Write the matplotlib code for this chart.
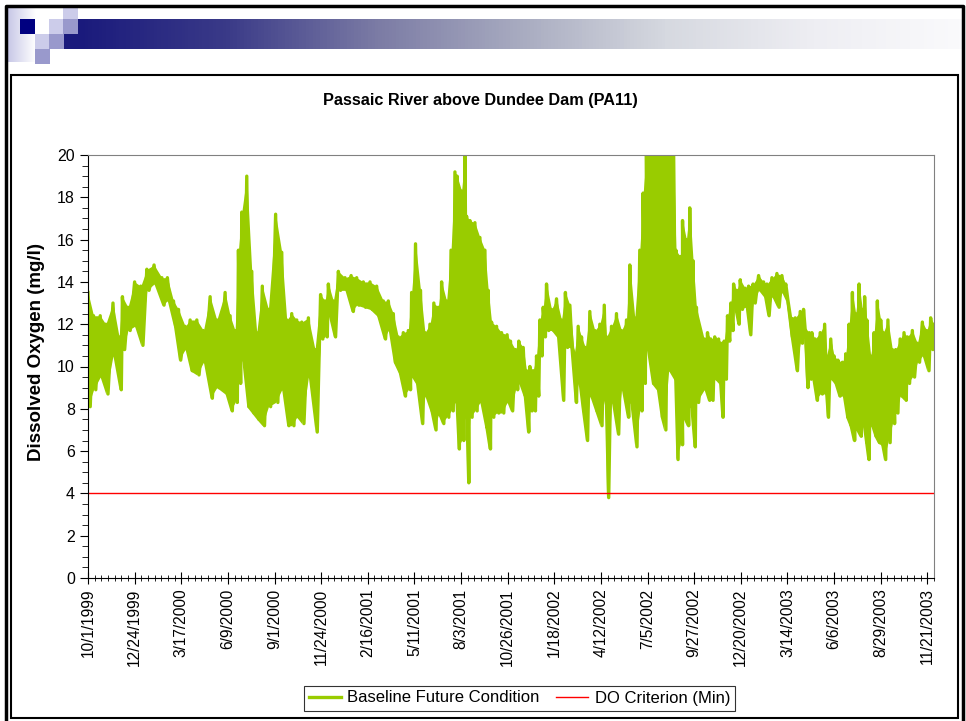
import numpy as np
import pandas as pd
import matplotlib
matplotlib.use("Agg")
import matplotlib.pyplot as plt
from matplotlib.colors import LinearSegmentedColormap
from matplotlib.patches import Rectangle

plt.rcParams['font.family'] = ['Liberation Sans', 'DejaVu Sans']

# days after 10/1/1999 where the upper / lower edge of the trace was read
days = [0, 10, 22, 32, 45, 56, 62, 72, 84, 95, 106, 119, 133, 143, 154, 163, 175, 184, 196, 208, 220, 232,
        247, 256, 265, 271, 277, 286, 295, 304, 314, 325, 338, 349, 358, 367, 376, 385, 397, 409, 419, 427,
        433, 442, 451, 463, 474, 484, 496, 508,
        520, 532, 541, 550, 559, 568, 577, 583, 590, 599, 607, 616, 623, 631, 637, 646, 654, 661, 665, 673,
        679, 682, 688, 697, 706, 715, 721, 727, 736, 745, 755, 761, 770, 776,
        784, 790, 796, 802, 808, 814, 820, 826, 835, 844, 853, 860, 868, 876, 883, 889, 896, 904, 913, 922,
        930, 934, 943, 952, 961, 970, 976, 985, 994, 1000, 1006, 1015, 1024,
        1031, 1037, 1046, 1055, 1059, 1067, 1071, 1078, 1084, 1090, 1096, 1110, 1116, 1122, 1129, 1136, 1140,
        1146, 1152, 1158, 1163, 1169, 1175, 1184, 1190, 1198, 1208, 1217, 1223, 1232, 1241, 1250, 1257, 1265,
        1274, 1283, 1289, 1293, 1299,
        1304, 1310, 1319, 1327, 1330, 1338, 1344, 1351, 1359, 1365, 1371, 1377, 1383, 1389, 1395, 1399, 1403,
        1410, 1416, 1422, 1428, 1433, 1441, 1449, 1455, 1463, 1470, 1476, 1485, 1494, 1503, 1511, 1518, 1524]

do_high = [13.5, 12.4, 12.4, 12.0, 13.0, 11.4, 13.3, 12.8, 14.0, 13.8, 14.6, 14.8, 14.2, 14.2, 13.1, 12.7, 11.9,
           12.2, 12.2, 11.7, 13.3, 12.2,
           13.5, 12.4, 11.7, 15.5, 17.3, 19.0, 14.5, 11.6, 13.8, 12.7, 17.2, 15.4, 12.2, 12.5, 12.2, 12.1, 12.3,
           10.8, 13.4, 13.1, 13.9, 13.1, 14.5, 14.2, 14.3, 14.2, 14.0, 14.0,
           13.8, 13.1, 13.1, 12.5, 11.4, 11.6, 11.7, 13.5, 15.8, 13.6, 11.6, 12.0, 13.0, 12.8, 14.0, 13.1, 15.5,
           19.2, 19.0, 18.3, 20.0, 17.1, 16.9, 16.8, 16.1, 15.5, 13.6, 12.1, 11.9, 11.6, 11.5, 11.2, 10.8, 11.2,
           10.9, 9.8, 10.0, 9.8, 10.5, 12.2, 12.8, 13.9, 12.7, 13.2, 12.2, 13.5, 12.9, 10.6, 11.9, 11.4, 10.9,
           12.6, 11.7, 12.0, 12.9, 11.4, 11.9, 12.5, 11.7, 12.2, 14.8, 12.3, 15.5, 18.2, 20.0, 20.0, 20.0,
           20.0, 20.0, 20.0, 20.0, 15.5, 15.2, 16.9, 16.0, 17.5, 15.0, 12.8, 11.3, 11.6, 11.3, 11.4, 11.3, 11.1,
           11.2, 12.4, 13.0, 13.9, 13.6, 14.1, 13.7, 13.8, 13.9, 14.3, 14.0, 13.9, 14.2, 14.4, 14.3, 13.9, 12.4,
           12.3, 12.6, 12.7, 11.7, 11.6,
           11.6, 11.3, 11.6, 12.0, 10.5, 11.3, 10.5, 10.3, 10.2, 10.6, 12.0, 13.5, 12.5, 13.9, 12.7, 13.3, 12.2,
           10.5, 11.6, 13.1, 12.2, 11.6, 12.2, 10.8, 10.8, 11.3, 11.6, 11.4, 11.7, 11.1, 12.1, 11.7, 12.3, 12.0]

do_low = [8.1, 8.9, 9.5, 8.7, 10.5, 8.9, 10.8, 11.7, 11.9, 11.0, 13.6, 13.9, 12.9, 13.1, 11.9, 10.3, 10.8,
          9.8, 9.6, 10.2, 8.5, 9.0,
          8.7, 7.9, 8.3, 9.2, 10.3, 8.1, 7.8, 7.5, 7.2, 8.1, 8.3, 8.9, 7.2, 7.2, 7.6, 7.3, 9.5,
          6.9, 11.3, 11.4, 12.4, 11.4, 13.6, 13.6, 12.6, 12.9, 12.8, 12.7,
          12.4, 11.3, 11.7, 10.2, 9.7, 8.6, 8.9, 9.5, 9.2, 7.3, 8.6, 7.9, 7.0, 7.7, 7.3, 7.6, 7.9,
          8.3, 6.1, 6.5, 7.6, 4.5, 7.6, 7.9, 8.3, 7.1, 6.1, 7.6, 7.8, 7.8, 8.3, 7.9, 8.9, 9.2,
          8.6, 6.9, 7.9, 7.9, 8.6, 10.5, 11.4, 11.7, 11.7, 11.4, 8.4, 10.9, 10.9, 8.3, 9.2, 7.9, 6.5,
          8.6, 7.9, 7.2, 8.4, 3.8, 8.3, 6.8, 8.9, 7.6, 8.3, 6.2, 7.9, 9.2, 10.8, 9.2, 8.9,
          7.6, 7.0, 9.8, 9.4, 5.6, 6.3, 7.6, 7.2, 8.1, 6.2, 8.3, 8.9, 8.4, 8.4, 9.4, 9.2, 7.6,
          9.4, 11.2, 11.7, 12.8, 12.0, 12.7, 12.8, 11.5, 13.0, 13.6, 13.3, 12.4, 13.3, 12.8, 13.5, 13.1, 11.4,
          9.8, 11.1, 11.4, 9.0, 9.4,
          9.4, 8.4, 8.7, 8.7, 7.6, 9.4, 9.2, 8.6, 8.6, 7.6, 7.2, 6.5, 7.0, 6.7, 7.2, 6.4, 5.6,
          7.2, 6.7, 6.4, 6.3, 5.6, 6.4, 7.3, 7.8, 8.6, 8.4, 9.2, 9.5, 10.2, 10.5, 9.8, 10.8, 11.0]

do_criterion = 4.0

tick_labels = ['10/1/1999', '12/24/1999', '3/17/2000', '6/9/2000', '9/1/2000', '11/24/2000',
               '2/16/2001', '5/11/2001', '8/3/2001', '10/26/2001', '1/18/2002', '4/12/2002',
               '7/5/2002', '9/27/2002', '12/20/2002', '3/14/2003', '6/6/2003', '8/29/2003', '11/21/2003']

start = pd.Timestamp('1999-10-01')
end_day = 1524
green = '#99cc00'

# trace runs up and down between the read edges
xs, ys = [], []
for d, h, l in zip(days, do_high, do_low):
    xs += [d, d + 4]
    ys += [h, l]
x_dates = [start + pd.Timedelta(days=d) for d in xs]
edge_dates = [start + pd.Timedelta(days=d) for d in days]

fig = plt.figure(figsize=(9.66, 7.21), dpi=100)

# slide decoration, drawn in pixel coords
bg = fig.add_axes([0, 0, 1, 1], zorder=-1)
bg.set_xlim(0, 966)
bg.set_ylim(721, 0)
bg.axis('off')
side = LinearSegmentedColormap.from_list('side', ['#c6c6e6', '#ffffff'])
bg.imshow(np.linspace(0, 1, 100)[None, :], cmap=side, extent=(7, 36, 62, 7), aspect='auto')
bar = LinearSegmentedColormap.from_list('bar', ['#1a1a7c', '#3a3a88', '#7a7aa4', '#a8abc0',
                                                '#d6d9e0', '#eeeef3', '#fafafc'])
bg.imshow(np.linspace(0, 1, 256)[None, :], cmap=bar, extent=(78, 962, 49, 19), aspect='auto')
squares = [(63, 7, '#ccccea'), (20, 19, '#000080'), (49, 19, '#ccccea'), (63, 19, '#9999cc'),
           (63, 34, '#1a1a7c'), (35, 34, '#ccccea'), (49, 34, '#9999cc'), (35, 49, '#9999cc')]
for sx, sy, c in squares:
    bg.add_patch(Rectangle((sx, sy), 15, 15, facecolor=c, edgecolor='none'))
bg.plot([6, 6, 963, 963], [721, 6, 6, 721], color='black', lw=2.5)
bg.add_patch(Rectangle((11, 75), 947, 643, facecolor='none', edgecolor='black', lw=1.5))

ax = fig.add_axes([88 / 966, 1 - 578 / 721, 846 / 966, 423 / 721])
ax.fill_between(edge_dates, do_low, do_high, color=green, lw=0)
ax.plot(x_dates, ys, color=green, lw=2.4, label='Baseline Future Condition')
ax.plot([start, start + pd.Timedelta(days=end_day)], [do_criterion, do_criterion],
        color='#ff0000', lw=1.0, label='DO Criterion (Min)')

ax.set_xlim(start, start + pd.Timedelta(days=end_day))
ax.set_ylim(0, 20)
ax.set_yticks(np.arange(0, 21, 2))
ax.set_yticks(np.arange(0, 20.1, 0.5), minor=True)
ax.set_xticks([start + pd.Timedelta(days=84 * i) for i in range(len(tick_labels))])
ax.set_xticks([start + pd.Timedelta(days=12 * i) for i in range(end_day // 12 + 1)], minor=True)
ax.set_xticklabels(tick_labels, rotation=90, fontsize=11.2)
ax.tick_params(axis='y', labelsize=11.5, which='major', length=6, direction='out')
ax.tick_params(axis='y', which='minor', length=4, direction='out')
ax.tick_params(axis='x', which='major', length=9, direction='inout', pad=3)
ax.tick_params(axis='x', which='minor', length=5, direction='inout')
for s in ['top', 'right']:
    ax.spines[s].set_color('#808080')
for s in ['left', 'bottom']:
    ax.spines[s].set_color('black')

fig.text(0.497, 1 - 101 / 721, 'Passaic River above Dundee Dam (PA11)', ha='center', va='center',
         fontsize=11.7, fontweight='bold')
fig.text(37 / 966, 1 - 352 / 721, 'Dissolved Oxygen (mg/l)', rotation=90, ha='center', va='center',
         fontsize=13.5, fontweight='bold')

leg = fig.legend(loc='center', bbox_to_anchor=(519.5 / 966, 1 - 698 / 721), ncol=2, fontsize=12,
                 frameon=True, fancybox=False, edgecolor='black', handlelength=1.9, columnspacing=1.0,
                 handletextpad=0.4, borderpad=0.3)
leg.get_frame().set_linewidth(0.8)

fig.savefig('out.png', dpi=100)
